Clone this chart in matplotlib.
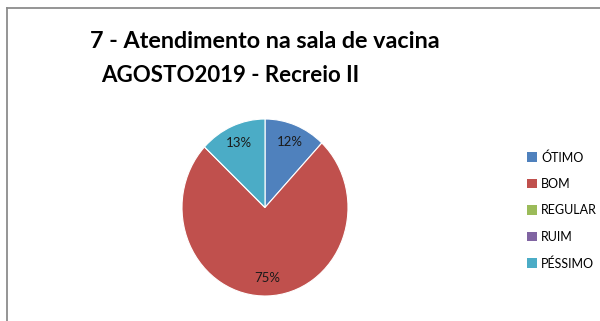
import matplotlib
matplotlib.use('Agg')
import matplotlib.pyplot as plt
from matplotlib.lines import Line2D
from matplotlib.patches import Patch

categorias = ['ÓTIMO', 'BOM', 'REGULAR', 'RUIM', 'PÉSSIMO']
percentuais = [12, 75, 0, 0, 13]
cores = ['#4F81BD', '#C0504D', '#9BBB59', '#8064A2', '#4BACC6']

plt.rcParams['font.family'] = ['Lato', 'DejaVu Sans']

W, H = 600, 321
fig = plt.figure(figsize=(W / 100, H / 100), dpi=100)

# moldura cinza (so a borda de cima e a da esquerda aparecem)
fig.add_artist(Line2D([7 / W, 7 / W], [0, 1 - 8 / H], color='#8c8c8c', lw=1.3))
fig.add_artist(Line2D([7 / W, 1], [1 - 8 / H, 1 - 8 / H], color='#8c8c8c', lw=1.3))

# titulo em duas linhas
fig.text(265 / W, 1 - 42 / H, '7 - Atendimento na sala de vacina',
         ha='center', va='center', fontsize=16.8, fontweight='bold')
fig.text(230 / W, 1 - 75 / H, 'AGOSTO2019 - Recreio II',
         ha='center', va='center', fontsize=16, fontweight='bold')

cx, cy, rx, ry = 265, 207.5, 83, 88.5
ax = fig.add_axes([(cx - rx) / W, 1 - (cy + ry) / H, 2 * rx / W, 2 * ry / H])


def rotulo(p):
    return '%.0f%%' % p if p > 0.5 else ''


wedges, textos, autotextos = ax.pie(percentuais, colors=cores, startangle=90,
                                    counterclock=False, autopct=rotulo,
                                    pctdistance=0.8,
                                    wedgeprops=dict(edgecolor='white', linewidth=0.8),
                                    textprops=dict(fontsize=9.5, color='#1a1a1a'))
ax.set_aspect('auto')
ax.set_xlim(-1, 1)
ax.set_ylim(-1, 1)

handles = [Patch(facecolor=c, edgecolor='none') for c in cores]
fig.legend(handles, categorias, loc='upper left',
           bbox_to_anchor=(522 / W, 1 - 146 / H), frameon=False,
           fontsize=9, handlelength=0.8, handleheight=0.8,
           handletextpad=0.35, labelspacing=1.15, borderaxespad=0)

fig.savefig('out.png', dpi=100)
